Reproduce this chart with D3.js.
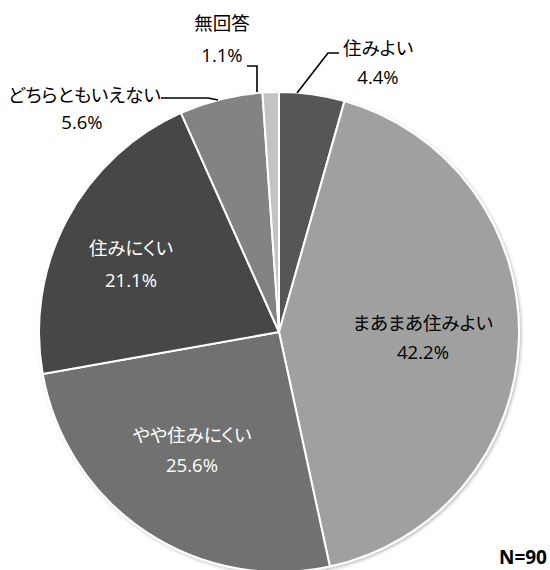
<!DOCTYPE html>
<html><head><meta charset="utf-8">
<script src="https://cdn.jsdelivr.net/npm/d3@7/dist/d3.min.js"></script>
<style>body{margin:0;background:#fff} text.l{font-feature-settings:"palt";}</style>
</head><body>
<svg id="c" width="550" height="570"></svg>
<script>
const categories = ["住みよい","まあまあ住みよい","やや住みにくい","住みにくい","どちらともいえない","無回答"];
const values = [4.4, 42.2, 25.6, 21.1, 5.6, 1.1];
const colors = ["#575757","#a0a0a0","#717171","#474747","#838383","#c3c3c3"];
const note = "N=90";

const W = 550, H = 570, cx = 279, cy = 332, R = 240;
const svg = d3.select("#c");
const defs = svg.append("defs");
const f = defs.append("filter").attr("id","sh").attr("x","-10%").attr("y","-10%").attr("width","120%").attr("height","120%");
f.append("feDropShadow").attr("dx",1.5).attr("dy",1.5).attr("stdDeviation",1.5).attr("flood-color","#000").attr("flood-opacity",0.25);

const pie = d3.pie().sort(null).value(d => d.v);
const data = pie(categories.map((c,i)=>({c, v: values[i], col: colors[i]})));
const arc = d3.arc().innerRadius(0).outerRadius(R);
const g = svg.append("g").attr("transform",`translate(${cx},${cy})`);
g.append("g").attr("filter","url(#sh)").selectAll("path").data(data).join("path")
  .attr("d", arc).attr("fill", d=>d.data.col).attr("stroke","#fff").attr("stroke-width",2).attr("stroke-linejoin","round");

const font = "'Noto Sans CJK JP','Noto Sans',sans-serif";
const numFont = "'Open Sans','Noto Sans',sans-serif";
const FS = 18.5, NFS = 18.5;
// inside labels: [centerX, nameCenterY, pctCenterY]
const inside = {1:[423, 323, 352], 2:[192, 435, 465], 3:[131, 248, 280]};
data.forEach((d,i) => {
  if (inside[i]) {
    const [x,y1,y2] = inside[i];
    const fill = i===1 ? "#000" : "#fff";
    svg.append("text").attr("class","l").attr("x",x).attr("y",y1).attr("dy","0.36em").attr("text-anchor","middle")
      .attr("font-family",font).attr("font-size",FS).attr("fill",fill).text(d.data.c);
    svg.append("text").attr("x",x).attr("y",y2).attr("dy","0.36em").attr("text-anchor","middle")
      .attr("font-family",numFont).attr("font-size",NFS).attr("fill",fill).text(d.data.v.toFixed(1)+"%");
  }
});

// outside labels with leader lines (absolute coordinates)
const outside = [
  {i:0, lines:[[297,93],[328,53],[339,53]], tx:343, ty:48, anchor:"start", px:378, py:77},
  {i:5, lines:[[247,66],[257,66],[257,92]], tx:222, ty:23, anchor:"middle", px:222, py:55},
  {i:4, lines:[[161,98],[208,98],[218,100]], tx:8, ty:95, anchor:"start", px:82, py:122}
];
outside.forEach(o => {
  const d = data[o.i];
  svg.append("path").attr("d", d3.line()(o.lines)).attr("fill","none").attr("stroke","#000").attr("stroke-width",1.6);
  svg.append("text").attr("class","l").attr("x",o.tx).attr("y",o.ty).attr("dy","0.36em").attr("text-anchor",o.anchor)
    .attr("font-family",font).attr("font-size",FS).attr("fill","#000").text(d.data.c);
  svg.append("text").attr("x",o.px).attr("y",o.py).attr("dy","0.36em").attr("text-anchor","middle")
    .attr("font-family",numFont).attr("font-size",NFS).attr("fill","#000").text(d.data.v.toFixed(1)+"%");
});

svg.append("text").attr("x",547).attr("y",564).attr("text-anchor","end").attr("font-family","'Noto Sans','DejaVu Sans',sans-serif").attr("font-weight","bold").attr("font-size",19).attr("fill","#000").text(note);
</script>
</body></html>
